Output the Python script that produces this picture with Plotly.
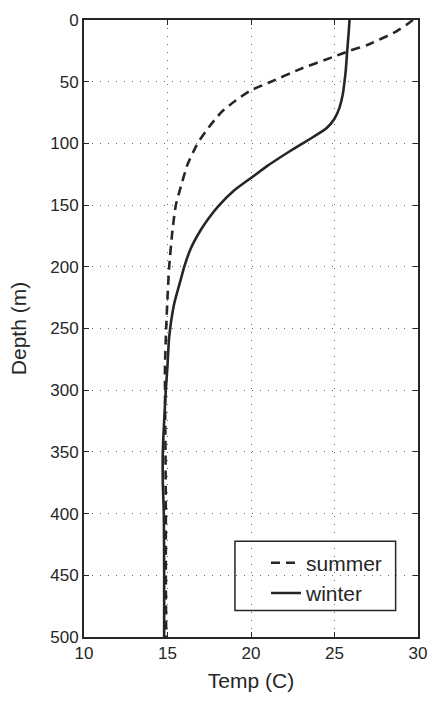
import plotly.graph_objects as go

# Temperature profiles (depth in metres, temperature in deg C)
summer_depth = [0, 4, 10, 20, 25, 30, 40, 50, 57, 65, 75, 90, 100, 117, 135, 150,
                170, 200, 225, 250, 280, 300, 350, 400, 450, 500]
summer_temp = [29.7, 29.3, 28.6, 27.0, 25.9, 24.9, 22.9, 21.2, 20.0, 19.1, 18.2, 17.3,
               16.8, 16.2, 15.8, 15.5, 15.3, 15.1, 15.0, 14.92, 14.85, 14.85, 14.88,
               14.9, 14.9, 14.92]

winter_depth = [0, 10, 25, 40, 50, 60, 71, 80, 88, 95, 104, 110, 118, 127, 138, 150,
                160, 170, 185, 200, 210, 230, 257, 280, 300, 325, 350, 375, 400, 450, 500]
winter_temp = [25.9, 25.85, 25.76, 25.68, 25.6, 25.5, 25.3, 25.0, 24.5, 23.7, 22.6,
               21.9, 21.0, 20.1, 19.0, 18.1, 17.5, 17.0, 16.4, 16.0, 15.8, 15.4, 15.1,
               15.0, 14.9, 14.8, 14.72, 14.72, 14.78, 14.8, 14.8]

x_ticks = [10, 15, 20, 25, 30]
y_ticks = [0, 50, 100, 150, 200, 250, 300, 350, 400, 450, 500]

ink = "#262626"
font = "Liberation Sans, Arial, sans-serif"

fig = go.Figure()
fig.add_trace(go.Scatter(
    x=summer_temp, y=summer_depth, name="summer", mode="lines",
    line=dict(color=ink, width=2.6, dash="9px,6px", shape="spline", smoothing=0.5),
))
fig.add_trace(go.Scatter(
    x=winter_temp, y=winter_depth, name="winter", mode="lines",
    line=dict(color=ink, width=2.6, shape="spline", smoothing=0.5),
))

axis_common = dict(
    showline=True, linecolor=ink, linewidth=2, mirror="ticks",
    ticks="inside", ticklen=5, tickwidth=1, tickcolor=ink,
    showgrid=True, gridcolor="#6e6e6e", griddash="1px,7px", gridwidth=1,
    zeroline=False, tickfont=dict(family=font, size=17, color=ink),
)

fig.update_xaxes(
    range=[10, 30], tickvals=x_ticks,
    title=dict(text="Temp (C)", font=dict(family=font, size=21, color=ink), standoff=11),
    **axis_common,
)
fig.update_yaxes(
    range=[500, 0], tickvals=y_ticks,
    title=dict(text="Depth (m)", font=dict(family=font, size=21, color=ink), standoff=18),
    **axis_common,
)

# frame around the legend entries
fig.add_shape(
    type="rect", xref="paper", yref="paper",
    x0=0.452, x1=0.933, y0=0.043, y1=0.155,
    line=dict(color=ink, width=1.5), fillcolor="white", layer="below",
)

fig.update_layout(
    width=438, height=706,
    margin=dict(l=84, r=11, t=11, b=69),
    paper_bgcolor="white", plot_bgcolor="white",
    font=dict(family=font, color=ink),
    legend=dict(
        x=0.545, y=0.153, xanchor="left", yanchor="top",
        bgcolor="rgba(0,0,0,0)", borderwidth=0,
        font=dict(family=font, size=21, color=ink),
        tracegroupgap=0,
    ),
)

fig.write_html("out.html")
